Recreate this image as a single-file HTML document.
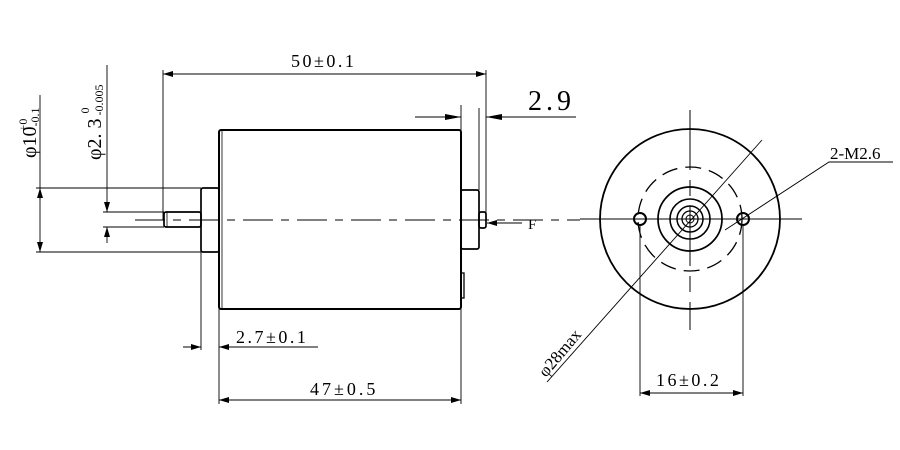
<!DOCTYPE html>
<html><head><style>body{margin:0;background:#fff}svg{display:block}text{font-family:"Liberation Serif",serif;fill:#000}</style></head><body>
<svg width="900" height="450" viewBox="0 0 900 450" xmlns="http://www.w3.org/2000/svg">
<defs><marker id="a" viewBox="0 0 10 6" refX="10" refY="3" markerWidth="10" markerHeight="6" orient="auto-start-reverse" markerUnits="userSpaceOnUse"><path d="M0,0L10,3L0,6z" fill="#000"/></marker>
<marker id="b" viewBox="0 0 16 6" refX="16" refY="3" markerWidth="16" markerHeight="6" orient="auto-start-reverse" markerUnits="userSpaceOnUse"><path d="M0,0L16,3L0,6z" fill="#000"/></marker></defs>
<g fill="none" stroke="#000">
<line x1="135" y1="220" x2="580" y2="220" stroke-width="1" stroke-dasharray="30,8,8,8"/>
<rect x="219" y="130" width="242" height="179" rx="2" stroke-width="2"/>
<line x1="222" y1="131" x2="222" y2="308" stroke-width="0.8"/>
<rect x="201" y="188" width="18" height="64" rx="2" stroke-width="1.7"/>
<rect x="164" y="212" width="37" height="15" rx="2" stroke-width="1.7"/>
<line x1="167" y1="212" x2="167" y2="227" stroke-width="0.8"/>
<rect x="461" y="190" width="18" height="59" rx="2" stroke-width="1.7"/>
<rect x="479" y="212" width="7" height="16" rx="2" stroke-width="1.7"/>
<rect x="461" y="273" width="3" height="25" stroke-width="1.3"/>
<g stroke-width="0.9">
<line x1="163" y1="70" x2="163" y2="220"/>
<line x1="486" y1="70" x2="486" y2="220"/>
<line x1="163" y1="74" x2="486" y2="74" marker-start="url(#a)" marker-end="url(#a)"/>
<line x1="461" y1="105" x2="461" y2="130"/>
<line x1="479" y1="108" x2="479" y2="190"/>
<line x1="415" y1="117" x2="461" y2="117" marker-end="url(#b)"/>
<line x1="576" y1="117" x2="486" y2="117" marker-end="url(#b)"/>
<line x1="522" y1="223" x2="487" y2="223" marker-end="url(#a)"/>
<line x1="36" y1="188" x2="201" y2="188"/>
<line x1="36" y1="252" x2="201" y2="252"/>
<line x1="40" y1="95" x2="40" y2="252" marker-end="url(#a)"/>
<line x1="40" y1="200" x2="40" y2="188" marker-end="url(#a)"/>
<line x1="103" y1="212" x2="164" y2="212"/>
<line x1="103" y1="227" x2="164" y2="227"/>
<line x1="107" y1="65" x2="107" y2="212" marker-end="url(#a)"/>
<line x1="107" y1="243" x2="107" y2="227" marker-end="url(#a)"/>
<line x1="201" y1="252" x2="201" y2="350"/>
<line x1="219" y1="309" x2="219" y2="404"/>
<line x1="183" y1="347" x2="201" y2="347" marker-end="url(#a)"/>
<line x1="318" y1="347" x2="219" y2="347" marker-end="url(#a)"/>
<line x1="461" y1="309" x2="461" y2="404"/>
<line x1="219" y1="400" x2="461" y2="400" marker-start="url(#a)" marker-end="url(#a)"/>
</g>
<g stroke-width="1">
<line x1="580" y1="219" x2="802" y2="219"/>
<line x1="690" y1="110" x2="690" y2="330" stroke-dasharray="60,10,16,10"/>
</g>
<circle cx="690" cy="219" r="90" stroke-width="1.8"/>
<circle cx="690" cy="219" r="52" stroke-width="1.3" stroke-dasharray="16,8"/>
<circle cx="690" cy="219" r="32" stroke-width="1.7"/>
<circle cx="690" cy="219" r="20" stroke-width="1.6"/>
<circle cx="690" cy="219" r="13" stroke-width="1.5"/>
<circle cx="690" cy="219" r="8" stroke-width="1.3"/>
<circle cx="690" cy="219" r="4" stroke-width="1"/>
<circle cx="640" cy="219" r="6" stroke-width="2"/>
<circle cx="743" cy="219" r="6" stroke-width="2"/>
<g stroke-width="0.9">
<polyline points="725,230 829,162 893,162"/>
<line x1="762" y1="140" x2="547" y2="382"/>
<line x1="640" y1="226" x2="640" y2="396"/>
<line x1="743" y1="226" x2="743" y2="396"/>
<line x1="640" y1="393" x2="743" y2="393" marker-start="url(#a)" marker-end="url(#a)"/>
</g>
</g>
<g font-size="18">
<text x="291" y="67" letter-spacing="2.5">50±0.1</text>
<text x="528" y="110" font-size="28" letter-spacing="4">2.9</text>
<text x="528" y="229" font-size="15">F</text>
<text x="236" y="343" letter-spacing="2.5">2.7±0.1</text>
<text x="310" y="395" letter-spacing="3">47±0.5</text>
<text x="656" y="386" letter-spacing="2.5">16±0.2</text>
<text x="830" y="159" font-size="17">2-M2.6</text>
<text transform="translate(36,158) rotate(-90)" font-size="20">φ10<tspan font-size="12" dy="3">-0.1</tspan><tspan font-size="12" dx="-24" dy="-12">+0</tspan></text>
<text transform="translate(101,160) rotate(-90)" font-size="20">φ2. 3 <tspan font-size="12" dy="-12">0</tspan><tspan font-size="12" dx="-8" dy="14">-0.005</tspan></text>
<text transform="translate(546,378) rotate(-50)" font-family="Liberation Sans" font-size="17">φ28max</text>
</g>
</svg>
</body></html>
